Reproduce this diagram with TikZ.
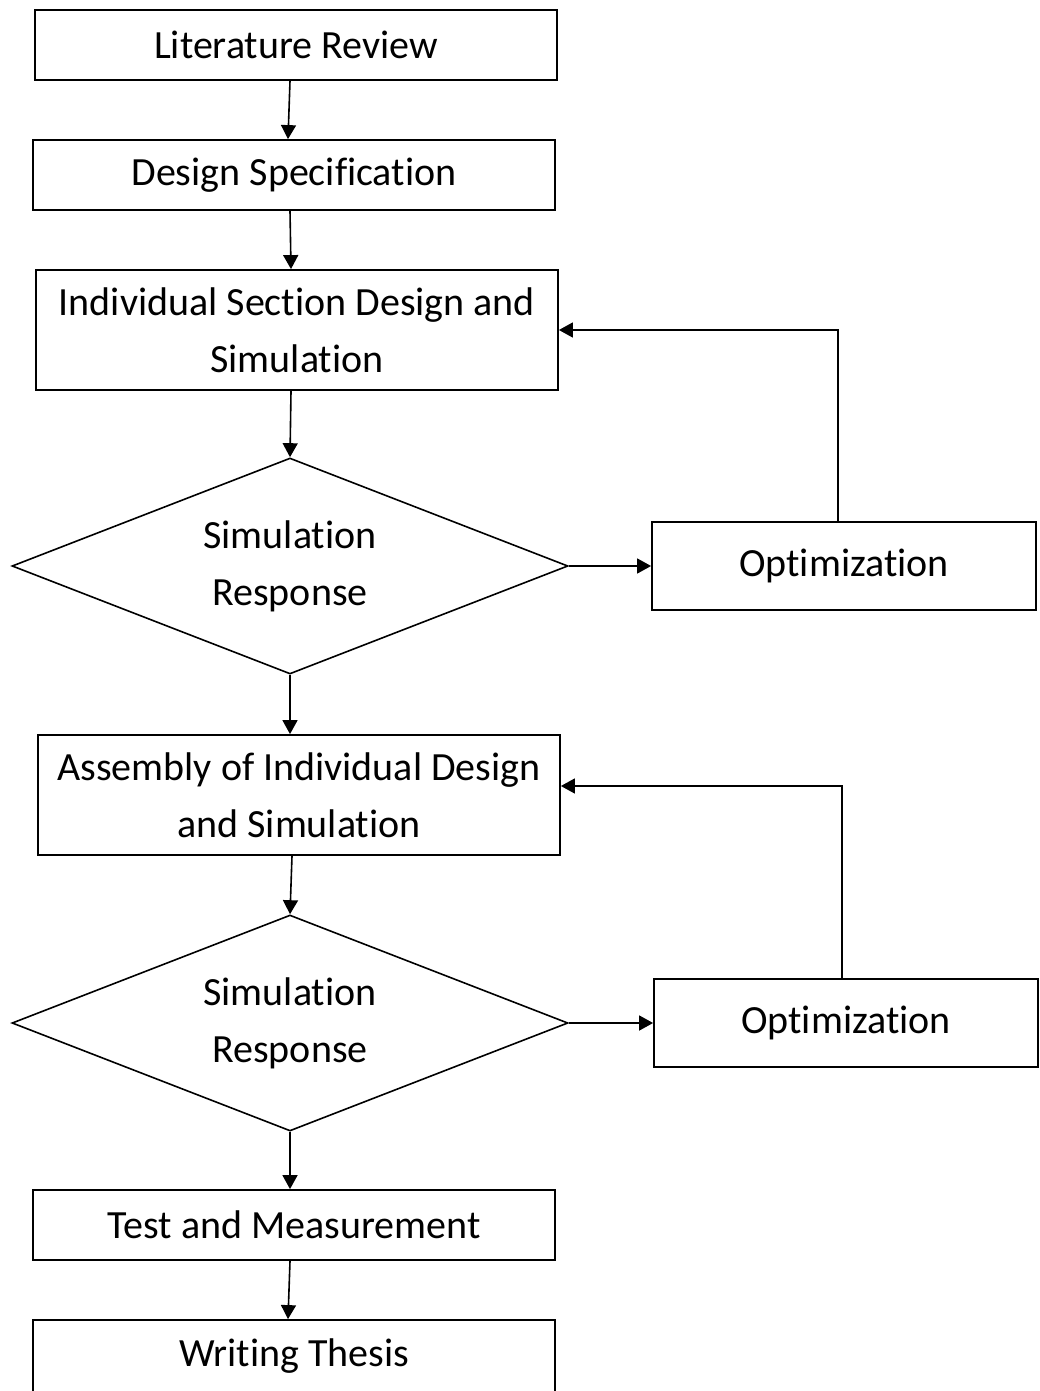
\documentclass[tikz,border=0pt]{standalone}
\usepackage{fontspec}
\setmainfont{Carlito}[Ligatures=NoCommon]
\usetikzlibrary{shapes.geometric, arrows.meta, positioning, calc}

\begin{document}
\begin{tikzpicture}[
    x=0.5pt, y=-0.5pt,
    stage/.style={draw, line width=0.9pt, minimum width=261pt, minimum height=35pt, align=center, font=\fontsize{20pt}{28.5pt}\selectfont},
    tallstage/.style={stage, minimum height=60pt},
    optbox/.style={stage, minimum width=192pt, minimum height=44pt},
    check/.style={draw, diamond, shape aspect=2.57, line width=0.8pt, minimum width=278pt, minimum height=108pt, inner sep=0pt, align=center, font=\fontsize{20pt}{28.5pt}\selectfont},
    arrow/.style={-{Triangle[length=7pt, width=7.5pt]}, line width=0.8pt}
]
\useasboundingbox (0,0) rectangle (1039,1391);

% Main stages
\node[stage] (litreview) at (296,45) {Literature Review};
\node[stage] (designspec) at (294,175) {Design Specification};
\node[tallstage] (sectiondesign) at (297,330) {Individual Section Design and\\Simulation};
\node[check] (simresp) at (290,566) {Simulation\\Response};
\node[optbox] (optim) at (844,566) {Optimization};
\node[tallstage] (assembly) at (299,795) {Assembly of Individual Design\\and Simulation};
\node[check] (simrespb) at (290,1023) {Simulation\\Response};
\node[optbox] (optimb) at (846,1023) {Optimization};
\node[stage] (testmeas) at (294,1225) {Test and Measurement};
\node[stage, minimum height=36pt] (thesis) at (294,1356) {Writing Thesis};

% Flow
\draw[arrow] ([xshift=-3pt]litreview.south) -- ([xshift=-3pt]designspec.north);
\draw[arrow] ([xshift=-2pt]designspec.south) -- ([xshift=-3pt]sectiondesign.north);
\draw[arrow] ([xshift=-3pt]sectiondesign.south) -- (simresp.north);
\draw[arrow] (simresp.south) -- ([xshift=-4.5pt]assembly.north);
\draw[arrow] ([xshift=-3.5pt]assembly.south) -- (simrespb.north);
\draw[arrow] (simrespb.south) -- ([xshift=-2pt]testmeas.north);
\draw[arrow] ([xshift=-2pt]testmeas.south) -- ([xshift=-3pt]thesis.north);

% Optimization loops
\draw[arrow] (simresp) -- (optim);
\draw[arrow] ([xshift=-3pt]optim.north) |- (sectiondesign.east);
\draw[arrow] (simrespb) -- (optimb);
\draw[arrow] ([xshift=-2pt]optimb.north) |- ([yshift=4.5pt]assembly.east);

\end{tikzpicture}
\end{document}
